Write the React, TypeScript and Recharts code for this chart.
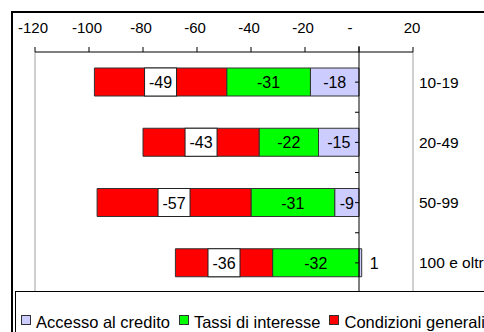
import React from "react";
import {
  Bar,
  BarChart,
  LabelList,
  Legend,
  ReferenceLine,
  XAxis,
  YAxis,
} from "recharts";

const categories = ["10-19", "20-49", "50-99", "100 e oltre"];
const accessoCredito = [-18, -15, -9, 1];
const tassiInteresse = [-31, -22, -31, -32];
const condizioniGenerali = [-49, -43, -57, -36];
const seriesNames = ["Accesso al credito", "Tassi di interesse", "Condizioni generali"];
const xTicks = [-120, -100, -80, -60, -40, -20, 0, 20];

const data = categories.map((name, i) => ({
  name,
  accesso: accessoCredito[i],
  tassi: tassiInteresse[i],
  condizioni: condizioniGenerali[i],
}));

const FONT = '"Liberation Sans", Arial, sans-serif';

function readBox(props: any) {
  const vb =
    props.viewBox && typeof props.viewBox.x === "number" ? props.viewBox : props;
  const w = Number(vb.width) || 0;
  const h = Number(vb.height) || 0;
  return {
    x: Math.min(vb.x, vb.x + w),
    y: Math.min(vb.y, vb.y + h),
    w: Math.abs(w),
    h: Math.abs(h),
  };
}

// plain centred value; positive values sit just right of the bar
function PlainLabel(props: any) {
  const { x, y, w, h } = readBox(props);
  const v = Number(props.value);
  if (v > 0) {
    return (
      <text x={x + w + 8} y={y + h / 2 + 6} fontSize={16} fill="#000">
        {v}
      </text>
    );
  }
  return (
    <text x={x + w / 2} y={y + h / 2 + 6} textAnchor="middle" fontSize={16} fill="#000">
      {v}
    </text>
  );
}

// value in a white box, as Excel draws it on the red series
function BoxedLabel(props: any) {
  const { x, y, w, h } = readBox(props);
  const cx = x + w / 2;
  return (
    <g>
      <rect x={cx - 16} y={y} width={32} height={h} fill="#fff" stroke="#222" strokeWidth={1} />
      <text x={cx} y={y + h / 2 + 6} textAnchor="middle" fontSize={16} fill="#000">
        {props.value}
      </text>
    </g>
  );
}

function TopTick({ x, y, payload }: any) {
  const v = payload.value;
  const dx = v === 0 ? -9 : v < 0 ? -2 : -1;
  return (
    <text x={x + dx} y={y} textAnchor="middle" fontSize={15} fill="#000">
      {v === 0 ? "-" : v}
    </text>
  );
}

function ZeroLine({ x1, y1, x2, y2 }: any) {
  const steps = categories.length * 2;
  const marks = [];
  for (let i = 1; i < steps; i++) {
    const yy = y1 + ((y2 - y1) * i) / steps;
    marks.push(<line key={i} x1={x1 - 4} x2={x1} y1={yy} y2={yy} stroke="#000" />);
  }
  return (
    <g>
      <line x1={x1} y1={y1 - 6} x2={x2} y2={y2} stroke="#000" strokeWidth={1} />
      {marks}
    </g>
  );
}

function LegendBox({ payload }: any) {
  const items = [...(payload ?? [])].sort(
    (a: any, b: any) => seriesNames.indexOf(a.value) - seriesNames.indexOf(b.value)
  );
  return (
    <div
      style={{
        border: "1px solid #000",
        background: "#fff",
        height: 50,
        boxSizing: "border-box",
        paddingTop: 11,
        paddingLeft: 5,
        display: "flex",
        fontSize: 16.5,
        lineHeight: "20px",
        whiteSpace: "nowrap",
      }}
    >
      {items.map((entry: any) => (
        <div key={entry.value} style={{ display: "flex", alignItems: "center", marginRight: 9 }}>
          <span
            style={{
              display: "inline-block",
              width: 8,
              height: 8,
              border: "1px solid #333",
              background: entry.color,
              marginRight: 5,
              position: "relative",
              top: -2,
            }}
          />
          <span>{entry.value}</span>
        </div>
      ))}
    </div>
  );
}

export default function App() {
  return (
    <div
      style={{
        position: "absolute",
        left: 0,
        top: 0,
        width: 484,
        height: 332,
        overflow: "hidden",
        background: "#fff",
        fontFamily: FONT,
      }}
    >
      <div
        style={{
          position: "absolute",
          left: 11,
          top: 11,
          width: 600,
          height: 400,
          border: "2px solid #000",
        }}
      />
      <div style={{ position: "absolute", left: 0, top: 0 }}>
        <BarChart
          width={484}
          height={332}
          data={data}
          layout="vertical"
          stackOffset="sign"
          barSize={28}
          margin={{ top: 22, right: 0, bottom: 39, left: 35 }}
        >
          <XAxis
            type="number"
            orientation="top"
            domain={[-120, 20]}
            ticks={xTicks}
            height={30}
            tickSize={5}
            tickMargin={14}
            axisLine={{ stroke: "#000" }}
            tickLine={{ stroke: "#000" }}
            tick={<TopTick />}
            interval={0}
          />
          <YAxis
            type="category"
            dataKey="name"
            orientation="right"
            width={71}
            axisLine={false}
            tickLine={false}
            tickSize={0}
            tickMargin={6}
            tick={{ fontSize: 15.5, fill: "#000" }}
            interval={0}
          />
          <ReferenceLine x={-120} stroke="#a0a0a0" />
          <ReferenceLine x={20} stroke="#a0a0a0" />
          <Bar
            dataKey="accesso"
            name={seriesNames[0]}
            stackId="s"
            fill="#ccccff"
            stroke="#333"
            strokeWidth={1}
            isAnimationActive={false}
          >
            <LabelList dataKey="accesso" content={PlainLabel} />
          </Bar>
          <Bar
            dataKey="tassi"
            name={seriesNames[1]}
            stackId="s"
            fill="#00ff00"
            stroke="#333"
            strokeWidth={1}
            isAnimationActive={false}
          >
            <LabelList dataKey="tassi" content={PlainLabel} />
          </Bar>
          <Bar
            dataKey="condizioni"
            name={seriesNames[2]}
            stackId="s"
            fill="#ff0000"
            stroke="#333"
            strokeWidth={1}
            isAnimationActive={false}
          >
            <LabelList dataKey="condizioni" content={BoxedLabel} />
          </Bar>
          <ReferenceLine x={0} stroke="#000" shape={ZeroLine} />
          <Legend
            layout="horizontal"
            verticalAlign="middle"
            align="center"
            wrapperStyle={{ left: 15, top: 291, width: 560, height: 50 }}
            content={LegendBox}
          />
        </BarChart>
      </div>
    </div>
  );
}
